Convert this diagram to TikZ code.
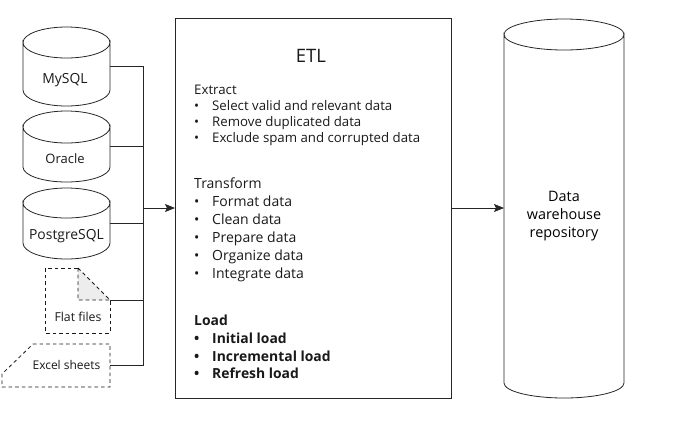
\documentclass[tikz,border=0pt]{standalone}
\usepackage{fontspec}
\setmainfont{Open Sans}
\usetikzlibrary{arrows.meta}
\newcommand{\cylshape}[7]{%
  % name, xl, xr, top, centre y, side end y, bottom y
  \pgfmathsetmacro{\cylcx}{(#2+#3)/2}\pgfmathsetmacro{\cylcy}{(#4+#7)/2}
  \pgfmathsetmacro{\cylrx}{(#3-#2)/2}\pgfmathsetmacro{\cylrt}{#5-#4}\pgfmathsetmacro{\cylrb}{#7-#6}
  \pgfmathsetmacro{\cylw}{#3-#2}\pgfmathsetmacro{\cylh}{#7-#4}
  \draw[ln] (#2,#5) arc[start angle=180,end angle=0,x radius=\cylrx,y radius=\cylrt]
     -- (#3,#6) arc[start angle=0,end angle=180,x radius=\cylrx,y radius=\cylrb] -- cycle;
  \draw[ln] (#2,#5) arc[start angle=180,end angle=360,x radius=\cylrx,y radius=\cylrt];
  \node[boxnode,minimum width=\cylw pt,minimum height=\cylh pt] (#1) at (\cylcx,\cylcy) {};
}
\tikzset{
  ln/.style={draw=black!85,line width=0.8pt},
  dashln/.style={draw=black!90,line width=0.8pt,dash pattern=on 3.6pt off 3pt},
  boxnode/.style={inner sep=0pt,outer sep=0pt},
  lbl/.style={inner sep=0pt,anchor=base,font=\fontsize{13.9}{15}\selectfont,text=black!90},
  small/.style={inner sep=0pt,anchor=base,font=\fontsize{12}{13}\selectfont,text=black!90},
  ex/.style={inner sep=0pt,anchor=base west,font=\fontsize{13.25}{15}\selectfont,text=black!90},
  tr/.style={inner sep=0pt,anchor=base west,font=\fontsize{14}{16}\selectfont,text=black!90},
  ld/.style={inner sep=0pt,anchor=base west,font=\fontsize{13.9}{16}\selectfont\bfseries,text=black!90},
  conn/.style={draw=black!85,line width=0.8pt},
  arr/.style={conn,-{Stealth[length=10pt,width=8pt,inset=2pt]}}
}
\begin{document}
\begin{tikzpicture}[x=1pt,y=-1pt]
\useasboundingbox (0,0) rectangle (676,437);
\cylshape{mysql}{23}{110}{27}{42.5}{90}{106}
\cylshape{oracle}{23}{110}{111}{127}{167}{182}
\cylshape{postgres}{23}{110}{188}{203}{243}{259}
\node[lbl] (mysqlt) at (65,83) {MySQL};
\node[small,font=\fontsize{13}{14}\selectfont] (oraclet) at (65,163) {Oracle};
\node[lbl] (postgrest) at (66.5,239) {PostgreSQL};
% flat file
\fill[black!7] (78,268) -- (110,300) -- (78,300) -- cycle;
\draw[dashln] (78,268) -- (45,268) -- (45,333) -- (110,333) -- (110,300);
\draw[dashln] (78,268) -- (110,300) -- (78,300) -- cycle;
\node[boxnode,minimum width=65pt,minimum height=65pt] (flat) at (77.5,300.5) {};
\node[small,font=\fontsize{12.3}{14}\selectfont] (flatt) at (78,321) {Flat files};
% excel
\draw[dashln] (33,344) -- (110,344) -- (110,387) -- (2,387) -- (2,374) -- cycle;
\node[boxnode,minimum width=108pt,minimum height=43pt] (excel) at (56,365.5) {};
\node[small] (excelt) at (66.5,369) {Excel sheets};
% ETL
\node[boxnode,draw=black!85,line width=0.8pt,minimum width=276pt,minimum height=380pt] (etl) at (313,208) {};
% warehouse
\cylshape{dw}{504}{624}{19}{34.5}{383}{398}
\node[align=center,inner sep=0pt,font=\fontsize{14.4}{18}\selectfont,text=black] (dwt) at (564,216) {Data\\warehouse\\repository};
% connectors
\coordinate (bus) at (143,208);
\draw[conn] (mysql.east) -| (bus);
\draw[conn] (excel.east) -| (bus);
\draw[conn] (oracle.east) -- (oracle.east -| bus);
\draw[conn] (postgres.east) -- (postgres.east -| bus);
\draw[conn] (flat.east) -- (flat.east -| bus);
\draw[arr] (bus) -- (etl.west);
\draw[arr] (etl.east) -- (etl.east -| dw.west);
% ETL text
\node[inner sep=0pt,font=\fontsize{18.5}{20}\selectfont,text=black!90] (title) at (311,56) {ETL};
\node[ex] (e0) at (194,94) {Extract};
\foreach \n/\y/\t in {e1/110/Select valid and relevant data,e2/126/Remove duplicated data,e3/142/Exclude spam and corrupted data}{
  \node[ex] (\n b) at (194,\y) {•};
  \node[ex] (\n) at (212,\y) {\t};
}
\node[tr] (t0) at (194,188) {Transform};
\foreach \n/\y/\t in {t1/206/Format data,t2/224/Clean data,t3/242/Prepare data,t4/260/Organize data,t5/278/Integrate data}{
  \node[tr] (\n b) at (194,\y) {•};
  \node[tr] (\n) at (212,\y) {\t};
}
\node[ld] (l0) at (194,325) {Load};
\foreach \n/\y/\t in {l1/343/Initial load,l2/361/Incremental load,l3/378/Refresh load}{
  \node[ld] (\n b) at (194,\y) {•};
  \node[ld] (\n) at (212,\y) {\t};
}
\end{tikzpicture}
\end{document}
